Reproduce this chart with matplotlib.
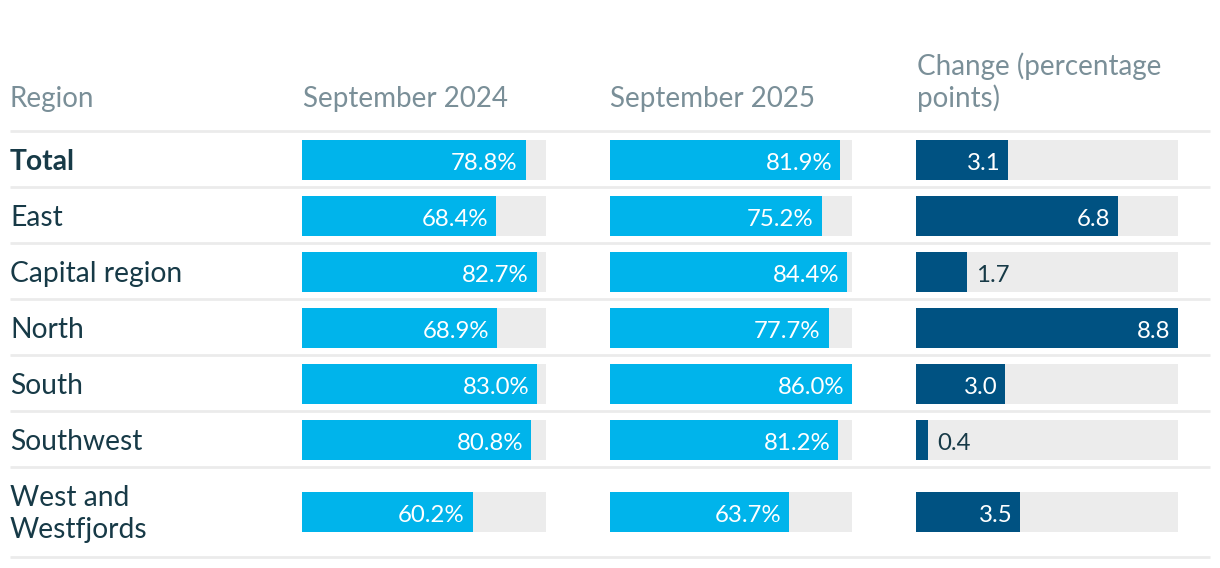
import matplotlib
matplotlib.use("Agg")
import matplotlib.pyplot as plt

plt.rcParams['font.family'] = ['Lato', 'DejaVu Sans']

regions = ['Total', 'East', 'Capital region', 'North', 'South', 'Southwest',
           'West and\nWestfjords']
sep_2024 = [78.8, 68.4, 82.7, 68.9, 83.0, 80.8, 60.2]
sep_2025 = [81.9, 75.2, 84.4, 77.7, 86.0, 81.2, 63.7]
change = [3.1, 6.8, 1.7, 8.8, 3.0, 0.4, 3.5]
headers = ['Region', 'September 2024', 'September 2025', 'Change (percentage\npoints)']

W, H = 1220, 568
CYAN = '#00b4eb'
NAVY = '#005282'
TRACK = '#ececec'
RULE = '#ebebeb'
DARK = '#173a47'
GREY = '#7a8f98'

# layout in pixels
rules = [131, 187, 243, 299, 355, 411, 467, 557]
centers = [160, 216, 272, 328, 384, 440, 512]
bar_h = 40
line_gap = 32

fig = plt.figure(figsize=(W / 100, H / 100), dpi=100)
bg = fig.add_axes([0, 0, 1, 1])
bg.set_xlim(0, W)
bg.set_ylim(H, 0)
bg.axis('off')

# header, bottom line sits on a common baseline
header_x = [10, 303, 610, 917]
for hx, txt in zip(header_x, headers):
    lines = txt.split('\n')
    for k, ln in enumerate(lines):
        yb = 107 - (len(lines) - 1 - k) * line_gap
        bg.text(hx, yb, ln, ha='left', va='baseline', fontsize=20, color=GREY)

# separators
for y in rules:
    bg.plot([10, 1210], [y, y], color=RULE, lw=2, solid_capstyle='butt')

# region names
for i, name in enumerate(regions):
    lines = name.split('\n')
    first = centers[i] + 10 - (len(lines) - 1) * line_gap / 2
    for k, ln in enumerate(lines):
        bg.text(10, first + k * line_gap, ln, ha='left', va='baseline',
                fontsize=20.3, color=DARK,
                fontweight='bold' if i == 0 else 'normal')

pct_max = max(max(sep_2024), max(sep_2025))
columns = [
    (sep_2024, 302, 546, pct_max, CYAN, '{:.1f}%'),
    (sep_2025, 610, 852, pct_max, CYAN, '{:.1f}%'),
    (change, 916, 1178, max(change), NAVY, '{:.1f}'),
]

for vals, x0, x1, vmax, col, fmt in columns:
    ax = fig.add_axes([x0 / W, 0, (x1 - x0) / W, 1])
    ax.set_xlim(0, vmax)
    ax.set_ylim(H, 0)
    ax.axis('off')
    ax.barh(centers, [vmax] * len(vals), height=bar_h, color=TRACK)
    ax.barh(centers, vals, height=bar_h, color=col)
    px_per = (x1 - x0) / vmax
    for y, v in zip(centers, vals):
        if v * px_per > 60:
            ax.text(v - 8 / px_per, y + 10, fmt.format(v), ha='right',
                    va='baseline', fontsize=17.3, color='white')
        else:
            ax.text(v + 9 / px_per, y + 10, fmt.format(v), ha='left',
                    va='baseline', fontsize=17.3, color=DARK)

fig.savefig('out.png', dpi=100)
